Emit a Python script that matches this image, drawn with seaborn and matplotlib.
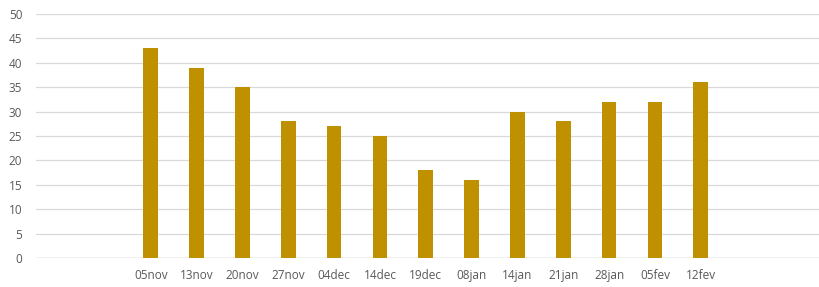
import seaborn as sns
import pandas as pd
from matplotlib import pyplot as plt

dates = ["05nov", "13nov", "20nov", "27nov", "04dec", "14dec", "19dec",
         "08jan", "14jan", "21jan", "28jan", "05fev", "12fev"]
values = [43, 39, 35, 28, 27, 25, 18, 16, 30, 28, 32, 32, 36]

data = pd.DataFrame({"date": dates, "value": values})

sns.set_style("white")
plt.rcParams["font.family"] = ["Open Sans", "DejaVu Sans"]

fig = plt.figure(figsize=(8.2, 2.87), dpi=100)
ax = fig.add_axes([0.044, 0.101, 0.956, 0.85])

sns.barplot(data=data, x="date", y="value", order=dates, color="#BF9000",
            saturation=1, width=0.32, linewidth=0, ax=ax, zorder=3)

ax.set_ylim(0, 50)
ax.set_yticks(range(0, 51, 5))
ax.set_xlim(-2.5, 14.6)
ax.grid(axis="y", color="#D9D9D9", linewidth=0.9, zorder=0)
ax.set_axisbelow(True)
for side in ["top", "right", "left", "bottom"]:
    ax.spines[side].set_visible(False)
ax.axhline(0, color="#D0D0D0", linewidth=1.0, zorder=1)
ax.tick_params(axis="both", length=0, labelsize=8.5, labelcolor="#595959")
ax.tick_params(axis="x", pad=8)
ax.tick_params(axis="y", pad=10)
ax.set_xlabel("")
ax.set_ylabel("")

fig.savefig("out.png", dpi=100)
